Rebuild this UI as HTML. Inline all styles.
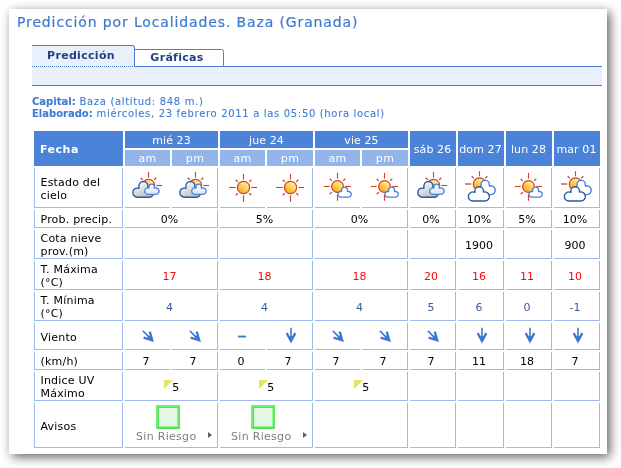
<!DOCTYPE html>
<html lang="es"><head><meta charset="utf-8"><title>Predicción por Localidades. Baza (Granada)</title>
<style>

html,body{margin:0;padding:0;background:#fff;}
body{width:621px;height:468px;position:relative;overflow:hidden;font-family:"DejaVu Sans","Liberation Sans",sans-serif;font-size:11px;color:#000;}
#panel{position:absolute;left:9px;top:9px;width:598px;height:445px;background:#fff;box-shadow:3px 3px 10px 0px rgba(0,0,0,0.62);}
#page{position:absolute;left:0;top:0;width:621px;height:468px;}
#page div,#page svg,#page h1,#page p,#page span.abs{position:absolute;box-sizing:border-box;margin:0;white-space:nowrap;}
h1{font-weight:normal;font-size:14px;line-height:18px;color:#3c79d1;letter-spacing:0.87px;-webkit-text-stroke:0.18px #3c79d1;}
.tab{font-weight:bold;font-size:11px;line-height:13px;color:#1f4283;text-align:center;letter-spacing:0.3px;}
.info{font-size:10px;line-height:12px;color:#3e7dd8;letter-spacing:0.67px;}
.info b{font-weight:bold;letter-spacing:0;}
.info{-webkit-text-stroke:0.1px currentColor;}
.c{border-right:1px solid #9dbbee;border-bottom:1px solid #9dbbee;display:flex;align-items:center;justify-content:center;line-height:13px;padding-top:2px;padding-right:3px;}
.nb{border-right:none;}
.l{border-left:1px solid #9dbbee;justify-content:flex-start;padding-left:5.5px;padding-right:0;white-space:normal !important;letter-spacing:0.2px;}
.h{background:#4b83d8;color:#fff;display:flex;align-items:center;justify-content:center;line-height:13px;letter-spacing:0.1px;padding-top:2px;}
.s{background:#93b4ea;color:#fff;display:flex;align-items:center;justify-content:center;line-height:13px;letter-spacing:0.3px;}
.red{color:#f40a0a;}
.blue{color:#3b5c9c;}
.grey{color:#7d7d7d;}
.ic{overflow:visible;}

</style></head><body>
<div id="panel"></div>
<div id="page">
<h1 style="left:17px;top:13px">Predicción por Localidades. Baza (Granada)</h1>
<div style="left:32px;top:66px;width:570px;height:20px;background:#e9f0fc;border-bottom:1px solid #4a7fd0;"></div>
<div style="left:223px;top:66px;width:379px;height:1px;background:#4a7fd0;"></div>
<div class="tab" style="left:32px;top:45px;width:103px;height:22px;background:#e9f0fc;border-top:1px solid #4a7fd0;border-right:1px solid #4a7fd0;border-bottom:1px dotted #4a7fd0;border-top-right-radius:2.5px;padding-top:3px;padding-right:4px;">Predicción</div>
<div class="tab" style="left:134px;top:49px;width:90px;height:18px;background:#fff;border:1px solid #4a7fd0;border-top-right-radius:2.5px;padding-top:1px;padding-right:4px;">Gráficas</div>
<p class="info" style="left:32px;top:96px"><b>Capital:</b> Baza (altitud: 848 m.)</p>
<p class="info" style="left:32px;top:108px"><b>Elaborado:</b> miércoles, 23 febrero 2011 a las 05:50 (hora local)</p>
<div class="h" style="left:34px;top:131px;width:89px;height:35px;justify-content:flex-start;padding-left:6px;font-weight:bold;letter-spacing:0.5px;">Fecha</div>
<div class="h" style="left:125px;top:131px;width:93px;height:17px;">mié 23</div>
<div class="s" style="left:125px;top:150px;width:45px;height:16px;">am</div>
<div class="s" style="left:172px;top:150px;width:46px;height:16px;">pm</div>
<div class="h" style="left:220px;top:131px;width:93px;height:17px;">jue 24</div>
<div class="s" style="left:220px;top:150px;width:45px;height:16px;">am</div>
<div class="s" style="left:267px;top:150px;width:46px;height:16px;">pm</div>
<div class="h" style="left:315px;top:131px;width:93px;height:17px;">vie 25</div>
<div class="s" style="left:315px;top:150px;width:45px;height:16px;">am</div>
<div class="s" style="left:362px;top:150px;width:46px;height:16px;">pm</div>
<div class="h" style="left:410px;top:131px;width:46px;height:35px;padding-right:1px;">sáb 26</div>
<div class="h" style="left:458px;top:131px;width:46px;height:35px;padding-right:1px;">dom 27</div>
<div class="h" style="left:506px;top:131px;width:46px;height:35px;padding-right:1px;">lun 28</div>
<div class="h" style="left:554px;top:131px;width:46px;height:35px;padding-right:1px;">mar 01</div>
<div class="c l" style="left:34px;top:168px;width:89px;height:40px;">Estado del<br>cielo</div>
<div class="c l" style="left:34px;top:210px;width:89px;height:18px;">Prob. precip.</div>
<div class="c l" style="left:34px;top:230px;width:89px;height:29px;">Cota nieve<br>prov.(m)</div>
<div class="c l" style="left:34px;top:261px;width:89px;height:29px;">T. Máxima<br>(°C)</div>
<div class="c l" style="left:34px;top:292px;width:89px;height:29px;">T. Mínima<br>(°C)</div>
<div class="c l" style="left:34px;top:323px;width:89px;height:27px;">Viento</div>
<div class="c l" style="left:34px;top:352px;width:89px;height:18px;">(km/h)</div>
<div class="c l" style="left:34px;top:372px;width:89px;height:29px;">Indice UV<br>Máximo</div>
<div class="c l" style="left:34px;top:403px;width:89px;height:45px;">Avisos</div>
<div class="c nb " style="left:125px;top:168px;width:45px;height:40px;"></div>
<div class="c " style="left:172px;top:168px;width:46px;height:40px;"></div>
<div class="c nb " style="left:220px;top:168px;width:45px;height:40px;"></div>
<div class="c " style="left:267px;top:168px;width:46px;height:40px;"></div>
<div class="c nb " style="left:315px;top:168px;width:45px;height:40px;"></div>
<div class="c " style="left:362px;top:168px;width:46px;height:40px;"></div>
<div class="c " style="left:410px;top:168px;width:46px;height:40px;"></div>
<div class="c " style="left:458px;top:168px;width:46px;height:40px;"></div>
<div class="c " style="left:506px;top:168px;width:46px;height:40px;"></div>
<div class="c " style="left:554px;top:168px;width:46px;height:40px;"></div>
<div class="c " style="left:125px;top:210px;width:93px;height:18px;">0%</div>
<div class="c " style="left:220px;top:210px;width:93px;height:18px;">5%</div>
<div class="c " style="left:315px;top:210px;width:93px;height:18px;">0%</div>
<div class="c " style="left:410px;top:210px;width:46px;height:18px;">0%</div>
<div class="c " style="left:458px;top:210px;width:46px;height:18px;">10%</div>
<div class="c " style="left:506px;top:210px;width:46px;height:18px;">5%</div>
<div class="c " style="left:554px;top:210px;width:46px;height:18px;">10%</div>
<div class="c " style="left:125px;top:230px;width:93px;height:29px;"></div>
<div class="c " style="left:220px;top:230px;width:93px;height:29px;"></div>
<div class="c " style="left:315px;top:230px;width:93px;height:29px;"></div>
<div class="c " style="left:410px;top:230px;width:46px;height:29px;"></div>
<div class="c " style="left:458px;top:230px;width:46px;height:29px;">1900</div>
<div class="c " style="left:506px;top:230px;width:46px;height:29px;"></div>
<div class="c " style="left:554px;top:230px;width:46px;height:29px;">900</div>
<div class="c red" style="left:125px;top:261px;width:93px;height:29px;">17</div>
<div class="c red" style="left:220px;top:261px;width:93px;height:29px;">18</div>
<div class="c red" style="left:315px;top:261px;width:93px;height:29px;">18</div>
<div class="c red" style="left:410px;top:261px;width:46px;height:29px;">20</div>
<div class="c red" style="left:458px;top:261px;width:46px;height:29px;">16</div>
<div class="c red" style="left:506px;top:261px;width:46px;height:29px;">11</div>
<div class="c red" style="left:554px;top:261px;width:46px;height:29px;">10</div>
<div class="c blue" style="left:125px;top:292px;width:93px;height:29px;">4</div>
<div class="c blue" style="left:220px;top:292px;width:93px;height:29px;">4</div>
<div class="c blue" style="left:315px;top:292px;width:93px;height:29px;">4</div>
<div class="c blue" style="left:410px;top:292px;width:46px;height:29px;">5</div>
<div class="c blue" style="left:458px;top:292px;width:46px;height:29px;">6</div>
<div class="c blue" style="left:506px;top:292px;width:46px;height:29px;">0</div>
<div class="c blue" style="left:554px;top:292px;width:46px;height:29px;">-1</div>
<div class="c nb " style="left:125px;top:323px;width:45px;height:27px;"></div>
<div class="c " style="left:172px;top:323px;width:46px;height:27px;"></div>
<div class="c nb " style="left:220px;top:323px;width:45px;height:27px;"></div>
<div class="c " style="left:267px;top:323px;width:46px;height:27px;"></div>
<div class="c nb " style="left:315px;top:323px;width:45px;height:27px;"></div>
<div class="c " style="left:362px;top:323px;width:46px;height:27px;"></div>
<div class="c " style="left:410px;top:323px;width:46px;height:27px;"></div>
<div class="c " style="left:458px;top:323px;width:46px;height:27px;"></div>
<div class="c " style="left:506px;top:323px;width:46px;height:27px;"></div>
<div class="c " style="left:554px;top:323px;width:46px;height:27px;"></div>
<div class="c nb " style="left:125px;top:352px;width:45px;height:18px;">7</div>
<div class="c " style="left:172px;top:352px;width:46px;height:18px;">7</div>
<div class="c nb " style="left:220px;top:352px;width:45px;height:18px;">0</div>
<div class="c " style="left:267px;top:352px;width:46px;height:18px;">7</div>
<div class="c nb " style="left:315px;top:352px;width:45px;height:18px;">7</div>
<div class="c " style="left:362px;top:352px;width:46px;height:18px;">7</div>
<div class="c " style="left:410px;top:352px;width:46px;height:18px;">7</div>
<div class="c " style="left:458px;top:352px;width:46px;height:18px;">11</div>
<div class="c " style="left:506px;top:352px;width:46px;height:18px;">18</div>
<div class="c " style="left:554px;top:352px;width:46px;height:18px;">7</div>
<div class="c " style="left:125px;top:372px;width:93px;height:29px;"><span class="abs" style="left:39px;top:8px;width:0;height:0;border-top:9px solid #e4e65e;border-right:9px solid transparent;"></span><span style="padding-left:12.6px">5</span></div>
<div class="c " style="left:220px;top:372px;width:93px;height:29px;"><span class="abs" style="left:39px;top:8px;width:0;height:0;border-top:9px solid #e4e65e;border-right:9px solid transparent;"></span><span style="padding-left:12.6px">5</span></div>
<div class="c " style="left:315px;top:372px;width:93px;height:29px;"><span class="abs" style="left:39px;top:8px;width:0;height:0;border-top:9px solid #e4e65e;border-right:9px solid transparent;"></span><span style="padding-left:12.6px">5</span></div>
<div class="c " style="left:410px;top:372px;width:46px;height:29px;"></div>
<div class="c " style="left:458px;top:372px;width:46px;height:29px;"></div>
<div class="c " style="left:506px;top:372px;width:46px;height:29px;"></div>
<div class="c " style="left:554px;top:372px;width:46px;height:29px;"></div>
<div class="c " style="left:125px;top:403px;width:93px;height:45px;"><span class="abs" style="left:31px;top:2px;width:24px;height:24px;background:#e5f6e5;border:2px solid #72f072;border-right-color:#62e662;border-bottom-color:#5ae05a;box-shadow:inset 1px 1px 0 #5cd85c, inset -1px -1px 0 #98f598;"></span><span class="abs grey" style="left:11px;top:27px;letter-spacing:0.3px">Sin Riesgo</span><span class="abs" style="left:83px;top:29px;width:0;height:0;border-left:4px solid #606060;border-top:3.5px solid transparent;border-bottom:3.5px solid transparent;"></span></div>
<div class="c " style="left:220px;top:403px;width:93px;height:45px;"><span class="abs" style="left:31px;top:2px;width:24px;height:24px;background:#e5f6e5;border:2px solid #72f072;border-right-color:#62e662;border-bottom-color:#5ae05a;box-shadow:inset 1px 1px 0 #5cd85c, inset -1px -1px 0 #98f598;"></span><span class="abs grey" style="left:11px;top:27px;letter-spacing:0.3px">Sin Riesgo</span><span class="abs" style="left:83px;top:29px;width:0;height:0;border-left:4px solid #606060;border-top:3.5px solid transparent;border-bottom:3.5px solid transparent;"></span></div>
<div class="c " style="left:315px;top:403px;width:93px;height:45px;"></div>
<div class="c " style="left:410px;top:403px;width:46px;height:45px;"></div>
<div class="c " style="left:458px;top:403px;width:46px;height:45px;"></div>
<div class="c " style="left:506px;top:403px;width:46px;height:45px;"></div>
<div class="c " style="left:554px;top:403px;width:46px;height:45px;"></div>
<svg width="0" height="0" style="left:0;top:0"><defs><linearGradient id="sg" x1="0.85" y1="0.1" x2="0.2" y2="0.95"><stop offset="0" stop-color="#fff7b4"/><stop offset="0.5" stop-color="#ffd052"/><stop offset="1" stop-color="#f5a028"/></linearGradient><linearGradient id="cw" gradientUnits="userSpaceOnUse" x1="0" y1="13" x2="0" y2="25"><stop offset="0" stop-color="#ffffff"/><stop offset="1" stop-color="#dfe2e8"/></linearGradient><linearGradient id="cg" gradientUnits="userSpaceOnUse" x1="8" y1="12" x2="16" y2="29"><stop offset="0" stop-color="#fafafa"/><stop offset="1" stop-color="#b4b6bb"/></linearGradient></defs></svg>
<svg class="ic" style="left:131px;top:170px" width="35" height="35" viewBox="0 0 35 35"><line x1="25.40" y1="15.50" x2="31.10" y2="15.50" stroke="#cd452d" stroke-width="1.15"/><line x1="11.84" y1="9.84" x2="9.72" y2="7.72" stroke="#cd452d" stroke-width="1.3"/><line x1="17.50" y1="7.60" x2="17.50" y2="1.90" stroke="#cd452d" stroke-width="1.15"/><line x1="23.16" y1="9.84" x2="25.28" y2="7.72" stroke="#cd452d" stroke-width="1.3"/><circle cx="17.5" cy="15.5" r="6.2" fill="url(#sg)" stroke="#cb4528" stroke-width="1.2"/><path d="M 6.35 27.20 A 4.55 4.55 0 1 1 7.90 18.37 L 7.90 16.00 A 4.50 4.50 0 0 1 16.90 16.00 L 16.90 20.64 A 3.50 3.50 0 1 1 18.60 27.20 Z" fill="url(#cg)" stroke="#2b5aa6" stroke-width="1.4" stroke-linejoin="round"/><path d="M 16.90 24.35 A 3.25 3.25 0 1 1 17.95 18.02 L 17.95 16.90 A 2.75 2.75 0 0 1 23.45 16.90 L 23.45 18.19 A 3.25 3.25 0 1 1 24.90 24.35 Z" fill="url(#cw)" stroke="#4683de" stroke-width="1.3" stroke-linejoin="round"/></svg>
<svg class="ic" style="left:178px;top:170px" width="35" height="35" viewBox="0 0 35 35"><line x1="25.40" y1="15.50" x2="31.10" y2="15.50" stroke="#cd452d" stroke-width="1.15"/><line x1="11.84" y1="9.84" x2="9.72" y2="7.72" stroke="#cd452d" stroke-width="1.3"/><line x1="17.50" y1="7.60" x2="17.50" y2="1.90" stroke="#cd452d" stroke-width="1.15"/><line x1="23.16" y1="9.84" x2="25.28" y2="7.72" stroke="#cd452d" stroke-width="1.3"/><circle cx="17.5" cy="15.5" r="6.2" fill="url(#sg)" stroke="#cb4528" stroke-width="1.2"/><path d="M 6.35 27.20 A 4.55 4.55 0 1 1 7.90 18.37 L 7.90 16.00 A 4.50 4.50 0 0 1 16.90 16.00 L 16.90 20.64 A 3.50 3.50 0 1 1 18.60 27.20 Z" fill="url(#cg)" stroke="#2b5aa6" stroke-width="1.4" stroke-linejoin="round"/><path d="M 16.90 24.35 A 3.25 3.25 0 1 1 17.95 18.02 L 17.95 16.90 A 2.75 2.75 0 0 1 23.45 16.90 L 23.45 18.19 A 3.25 3.25 0 1 1 24.90 24.35 Z" fill="url(#cw)" stroke="#4683de" stroke-width="1.3" stroke-linejoin="round"/></svg>
<svg class="ic" style="left:226px;top:170px" width="35" height="35" viewBox="0 0 35 35"><line x1="25.40" y1="17.50" x2="31.10" y2="17.50" stroke="#cd452d" stroke-width="1.15"/><line x1="23.16" y1="23.16" x2="25.28" y2="25.28" stroke="#cd452d" stroke-width="1.3"/><line x1="17.50" y1="25.40" x2="17.50" y2="31.80" stroke="#cd452d" stroke-width="1.15"/><line x1="11.84" y1="23.16" x2="9.72" y2="25.28" stroke="#cd452d" stroke-width="1.3"/><line x1="9.60" y1="17.50" x2="3.20" y2="17.50" stroke="#cd452d" stroke-width="1.15"/><line x1="11.84" y1="11.84" x2="9.72" y2="9.72" stroke="#cd452d" stroke-width="1.3"/><line x1="17.50" y1="9.60" x2="17.50" y2="3.90" stroke="#cd452d" stroke-width="1.15"/><line x1="23.16" y1="11.84" x2="25.28" y2="9.72" stroke="#cd452d" stroke-width="1.3"/><circle cx="17.5" cy="17.5" r="6.1" fill="url(#sg)" stroke="#cb4528" stroke-width="1.2"/></svg>
<svg class="ic" style="left:273px;top:170px" width="35" height="35" viewBox="0 0 35 35"><line x1="25.40" y1="17.50" x2="31.10" y2="17.50" stroke="#cd452d" stroke-width="1.15"/><line x1="23.16" y1="23.16" x2="25.28" y2="25.28" stroke="#cd452d" stroke-width="1.3"/><line x1="17.50" y1="25.40" x2="17.50" y2="31.80" stroke="#cd452d" stroke-width="1.15"/><line x1="11.84" y1="23.16" x2="9.72" y2="25.28" stroke="#cd452d" stroke-width="1.3"/><line x1="9.60" y1="17.50" x2="3.20" y2="17.50" stroke="#cd452d" stroke-width="1.15"/><line x1="11.84" y1="11.84" x2="9.72" y2="9.72" stroke="#cd452d" stroke-width="1.3"/><line x1="17.50" y1="9.60" x2="17.50" y2="3.90" stroke="#cd452d" stroke-width="1.15"/><line x1="23.16" y1="11.84" x2="25.28" y2="9.72" stroke="#cd452d" stroke-width="1.3"/><circle cx="17.5" cy="17.5" r="6.1" fill="url(#sg)" stroke="#cb4528" stroke-width="1.2"/></svg>
<svg class="ic" style="left:321px;top:170px" width="35" height="35" viewBox="0 0 35 35"><line x1="24.40" y1="16.50" x2="30.10" y2="16.50" stroke="#cd452d" stroke-width="1.15"/><line x1="16.50" y1="24.40" x2="16.50" y2="30.80" stroke="#cd452d" stroke-width="1.15"/><line x1="10.84" y1="22.16" x2="8.72" y2="24.28" stroke="#cd452d" stroke-width="1.3"/><line x1="8.60" y1="16.50" x2="2.90" y2="16.50" stroke="#cd452d" stroke-width="1.15"/><line x1="10.84" y1="10.84" x2="8.72" y2="8.72" stroke="#cd452d" stroke-width="1.3"/><line x1="16.50" y1="8.60" x2="16.50" y2="2.90" stroke="#cd452d" stroke-width="1.15"/><line x1="22.16" y1="10.84" x2="24.28" y2="8.72" stroke="#cd452d" stroke-width="1.3"/><circle cx="16.5" cy="16.5" r="5.9" fill="url(#sg)" stroke="#cb4528" stroke-width="1.2"/><path d="M 19.70 27.15 A 2.85 2.85 0 1 1 20.65 21.61 L 20.65 20.10 A 2.95 2.95 0 0 1 26.55 20.10 L 26.55 21.58 A 2.85 2.85 0 1 1 27.40 27.15 Z" fill="#ffffff" stroke="#4683de" stroke-width="1.3" stroke-linejoin="round"/></svg>
<svg class="ic" style="left:368px;top:170px" width="35" height="35" viewBox="0 0 35 35"><line x1="24.40" y1="16.50" x2="30.10" y2="16.50" stroke="#cd452d" stroke-width="1.15"/><line x1="16.50" y1="24.40" x2="16.50" y2="30.80" stroke="#cd452d" stroke-width="1.15"/><line x1="10.84" y1="22.16" x2="8.72" y2="24.28" stroke="#cd452d" stroke-width="1.3"/><line x1="8.60" y1="16.50" x2="2.90" y2="16.50" stroke="#cd452d" stroke-width="1.15"/><line x1="10.84" y1="10.84" x2="8.72" y2="8.72" stroke="#cd452d" stroke-width="1.3"/><line x1="16.50" y1="8.60" x2="16.50" y2="2.90" stroke="#cd452d" stroke-width="1.15"/><line x1="22.16" y1="10.84" x2="24.28" y2="8.72" stroke="#cd452d" stroke-width="1.3"/><circle cx="16.5" cy="16.5" r="5.9" fill="url(#sg)" stroke="#cb4528" stroke-width="1.2"/><path d="M 19.70 27.15 A 2.85 2.85 0 1 1 20.65 21.61 L 20.65 20.10 A 2.95 2.95 0 0 1 26.55 20.10 L 26.55 21.58 A 2.85 2.85 0 1 1 27.40 27.15 Z" fill="#ffffff" stroke="#4683de" stroke-width="1.3" stroke-linejoin="round"/></svg>
<svg class="ic" style="left:416px;top:170px" width="35" height="35" viewBox="0 0 35 35"><line x1="25.40" y1="15.50" x2="31.10" y2="15.50" stroke="#cd452d" stroke-width="1.15"/><line x1="11.84" y1="9.84" x2="9.72" y2="7.72" stroke="#cd452d" stroke-width="1.3"/><line x1="17.50" y1="7.60" x2="17.50" y2="1.90" stroke="#cd452d" stroke-width="1.15"/><line x1="23.16" y1="9.84" x2="25.28" y2="7.72" stroke="#cd452d" stroke-width="1.3"/><circle cx="17.5" cy="15.5" r="6.2" fill="url(#sg)" stroke="#cb4528" stroke-width="1.2"/><path d="M 6.35 27.20 A 4.55 4.55 0 1 1 7.90 18.37 L 7.90 16.00 A 4.50 4.50 0 0 1 16.90 16.00 L 16.90 20.64 A 3.50 3.50 0 1 1 18.60 27.20 Z" fill="url(#cg)" stroke="#2b5aa6" stroke-width="1.4" stroke-linejoin="round"/><path d="M 16.90 24.35 A 3.25 3.25 0 1 1 17.95 18.02 L 17.95 16.90 A 2.75 2.75 0 0 1 23.45 16.90 L 23.45 18.19 A 3.25 3.25 0 1 1 24.90 24.35 Z" fill="url(#cw)" stroke="#4683de" stroke-width="1.3" stroke-linejoin="round"/></svg>
<svg class="ic" style="left:464px;top:170px" width="35" height="35" viewBox="0 0 35 35"><line x1="9.84" y1="8.34" x2="7.72" y2="6.22" stroke="#cd452d" stroke-width="1.3"/><line x1="21.16" y1="8.34" x2="23.28" y2="6.22" stroke="#cd452d" stroke-width="1.3"/><circle cx="15.5" cy="14.0" r="6.2" fill="url(#sg)" stroke="#cb4528" stroke-width="1.2"/><line x1="1.0" y1="14.0" x2="7.2" y2="14.0" stroke="#cd452d" stroke-width="1.3"/><line x1="15.5" y1="1.2" x2="15.5" y2="6.3" stroke="#cd452d" stroke-width="1.15"/><path d="M 17.50 24.60 A 3.30 3.30 0 0 1 17.05 18.03 L 17.05 14.55 A 4.15 4.15 0 0 1 25.35 14.55 L 25.35 16.08 A 4.40 4.40 0 1 1 26.90 24.60 Z" fill="#ffffff" stroke="#4683de" stroke-width="1.4" stroke-linejoin="round"/><path d="M 8.90 31.02 A 4.53 4.53 0 1 1 10.88 22.43 L 10.88 20.85 A 4.28 4.28 0 0 1 19.43 20.85 L 19.43 22.19 A 4.53 4.53 0 1 1 20.80 31.02 Z" fill="#ffffff" stroke="#2b5aa6" stroke-width="1.35" stroke-linejoin="round"/></svg>
<svg class="ic" style="left:512px;top:170px" width="35" height="35" viewBox="0 0 35 35"><line x1="24.40" y1="16.50" x2="30.10" y2="16.50" stroke="#cd452d" stroke-width="1.15"/><line x1="16.50" y1="24.40" x2="16.50" y2="30.80" stroke="#cd452d" stroke-width="1.15"/><line x1="10.84" y1="22.16" x2="8.72" y2="24.28" stroke="#cd452d" stroke-width="1.3"/><line x1="8.60" y1="16.50" x2="2.90" y2="16.50" stroke="#cd452d" stroke-width="1.15"/><line x1="10.84" y1="10.84" x2="8.72" y2="8.72" stroke="#cd452d" stroke-width="1.3"/><line x1="16.50" y1="8.60" x2="16.50" y2="2.90" stroke="#cd452d" stroke-width="1.15"/><line x1="22.16" y1="10.84" x2="24.28" y2="8.72" stroke="#cd452d" stroke-width="1.3"/><circle cx="16.5" cy="16.5" r="5.9" fill="url(#sg)" stroke="#cb4528" stroke-width="1.2"/><path d="M 19.70 27.15 A 2.85 2.85 0 1 1 20.65 21.61 L 20.65 20.10 A 2.95 2.95 0 0 1 26.55 20.10 L 26.55 21.58 A 2.85 2.85 0 1 1 27.40 27.15 Z" fill="#ffffff" stroke="#4683de" stroke-width="1.3" stroke-linejoin="round"/></svg>
<svg class="ic" style="left:560px;top:170px" width="35" height="35" viewBox="0 0 35 35"><line x1="9.84" y1="8.34" x2="7.72" y2="6.22" stroke="#cd452d" stroke-width="1.3"/><line x1="21.16" y1="8.34" x2="23.28" y2="6.22" stroke="#cd452d" stroke-width="1.3"/><circle cx="15.5" cy="14.0" r="6.2" fill="url(#sg)" stroke="#cb4528" stroke-width="1.2"/><line x1="1.0" y1="14.0" x2="7.2" y2="14.0" stroke="#cd452d" stroke-width="1.3"/><line x1="15.5" y1="1.2" x2="15.5" y2="6.3" stroke="#cd452d" stroke-width="1.15"/><path d="M 17.50 24.60 A 3.30 3.30 0 0 1 17.05 18.03 L 17.05 14.55 A 4.15 4.15 0 0 1 25.35 14.55 L 25.35 16.08 A 4.40 4.40 0 1 1 26.90 24.60 Z" fill="#ffffff" stroke="#4683de" stroke-width="1.4" stroke-linejoin="round"/><path d="M 8.90 31.02 A 4.53 4.53 0 1 1 10.88 22.43 L 10.88 20.85 A 4.28 4.28 0 0 1 19.43 20.85 L 19.43 22.19 A 4.53 4.53 0 1 1 20.80 31.02 Z" fill="#ffffff" stroke="#2b5aa6" stroke-width="1.35" stroke-linejoin="round"/></svg>
<svg class="ic" style="left:138.3px;top:325.6px" width="20" height="20" viewBox="-10 -10 20 20"><g transform="rotate(-45)" fill="none" stroke="#3f76d3"><path d="M0 -7.3 V4" stroke-width="1.55"/><path d="M-4.3 -1.9 L0 6.0 L4.3 -1.9" stroke-width="2.3" stroke-linejoin="miter" stroke-miterlimit="10"/><path d="M-3.0 1.0 L0 6 L3.0 1.0 Z" fill="#3f76d3" stroke="none"/></g></svg>
<svg class="ic" style="left:185.3px;top:325.6px" width="20" height="20" viewBox="-10 -10 20 20"><g transform="rotate(-45)" fill="none" stroke="#3f76d3"><path d="M0 -7.3 V4" stroke-width="1.55"/><path d="M-4.3 -1.9 L0 6.0 L4.3 -1.9" stroke-width="2.3" stroke-linejoin="miter" stroke-miterlimit="10"/><path d="M-3.0 1.0 L0 6 L3.0 1.0 Z" fill="#3f76d3" stroke="none"/></g></svg>
<svg class="ic" style="left:234px;top:328px" width="16" height="16" viewBox="-8 -8 16 16"><rect x="-4" y="-0.4" width="8" height="1.9" fill="#3f76d3"/></svg>
<svg class="ic" style="left:280.9px;top:324.85px" width="20" height="20" viewBox="-10 -10 20 20"><g transform="rotate(0)" fill="none" stroke="#3f76d3"><path d="M0 -7.3 V4" stroke-width="1.55"/><path d="M-4.3 -1.9 L0 6.0 L4.3 -1.9" stroke-width="2.3" stroke-linejoin="miter" stroke-miterlimit="10"/><path d="M-3.0 1.0 L0 6 L3.0 1.0 Z" fill="#3f76d3" stroke="none"/></g></svg>
<svg class="ic" style="left:328.3px;top:325.6px" width="20" height="20" viewBox="-10 -10 20 20"><g transform="rotate(-45)" fill="none" stroke="#3f76d3"><path d="M0 -7.3 V4" stroke-width="1.55"/><path d="M-4.3 -1.9 L0 6.0 L4.3 -1.9" stroke-width="2.3" stroke-linejoin="miter" stroke-miterlimit="10"/><path d="M-3.0 1.0 L0 6 L3.0 1.0 Z" fill="#3f76d3" stroke="none"/></g></svg>
<svg class="ic" style="left:375.3px;top:325.6px" width="20" height="20" viewBox="-10 -10 20 20"><g transform="rotate(-45)" fill="none" stroke="#3f76d3"><path d="M0 -7.3 V4" stroke-width="1.55"/><path d="M-4.3 -1.9 L0 6.0 L4.3 -1.9" stroke-width="2.3" stroke-linejoin="miter" stroke-miterlimit="10"/><path d="M-3.0 1.0 L0 6 L3.0 1.0 Z" fill="#3f76d3" stroke="none"/></g></svg>
<svg class="ic" style="left:423.3px;top:325.6px" width="20" height="20" viewBox="-10 -10 20 20"><g transform="rotate(-45)" fill="none" stroke="#3f76d3"><path d="M0 -7.3 V4" stroke-width="1.55"/><path d="M-4.3 -1.9 L0 6.0 L4.3 -1.9" stroke-width="2.3" stroke-linejoin="miter" stroke-miterlimit="10"/><path d="M-3.0 1.0 L0 6 L3.0 1.0 Z" fill="#3f76d3" stroke="none"/></g></svg>
<svg class="ic" style="left:471.9px;top:324.85px" width="20" height="20" viewBox="-10 -10 20 20"><g transform="rotate(0)" fill="none" stroke="#3f76d3"><path d="M0 -7.3 V4" stroke-width="1.55"/><path d="M-4.3 -1.9 L0 6.0 L4.3 -1.9" stroke-width="2.3" stroke-linejoin="miter" stroke-miterlimit="10"/><path d="M-3.0 1.0 L0 6 L3.0 1.0 Z" fill="#3f76d3" stroke="none"/></g></svg>
<svg class="ic" style="left:519.9px;top:324.85px" width="20" height="20" viewBox="-10 -10 20 20"><g transform="rotate(0)" fill="none" stroke="#3f76d3"><path d="M0 -7.3 V4" stroke-width="1.55"/><path d="M-4.3 -1.9 L0 6.0 L4.3 -1.9" stroke-width="2.3" stroke-linejoin="miter" stroke-miterlimit="10"/><path d="M-3.0 1.0 L0 6 L3.0 1.0 Z" fill="#3f76d3" stroke="none"/></g></svg>
<svg class="ic" style="left:567.9px;top:324.85px" width="20" height="20" viewBox="-10 -10 20 20"><g transform="rotate(0)" fill="none" stroke="#3f76d3"><path d="M0 -7.3 V4" stroke-width="1.55"/><path d="M-4.3 -1.9 L0 6.0 L4.3 -1.9" stroke-width="2.3" stroke-linejoin="miter" stroke-miterlimit="10"/><path d="M-3.0 1.0 L0 6 L3.0 1.0 Z" fill="#3f76d3" stroke="none"/></g></svg>
</div></body></html>
